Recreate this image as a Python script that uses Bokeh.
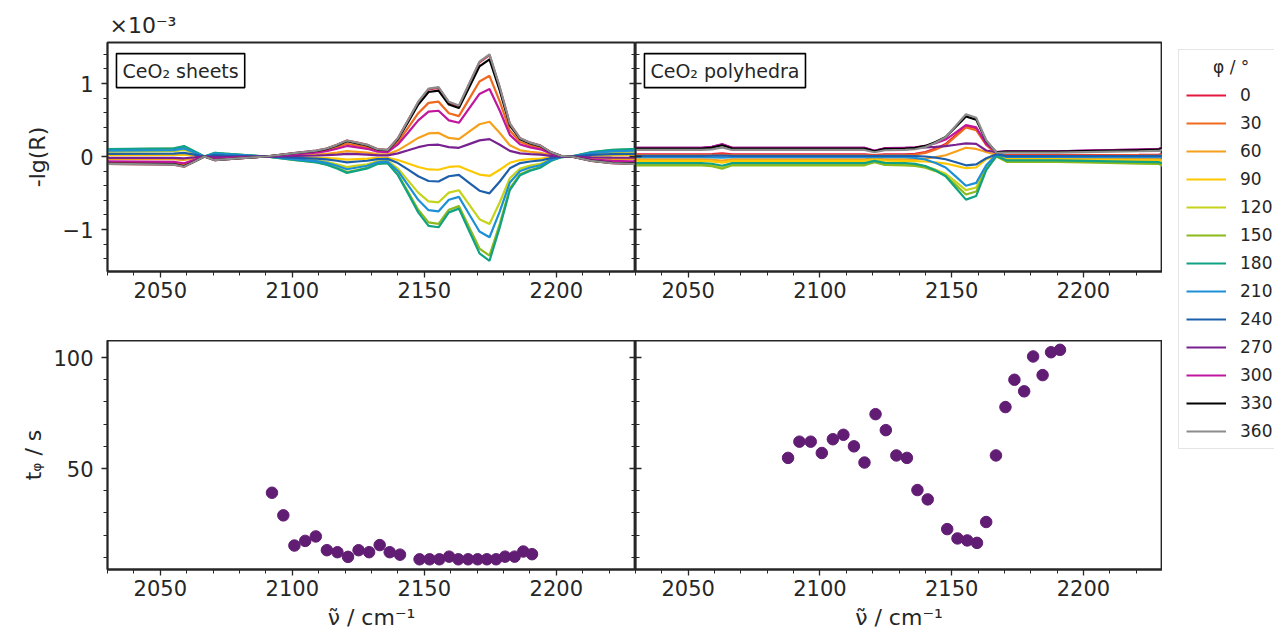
from bokeh.plotting import figure
from bokeh.models import (Range1d, LinearAxis, SingleIntervalTicker, Label, Legend,
                          LegendItem, Title, CustomJSTickFormatter)
from bokeh.layouts import row, column
from bokeh.embed import file_html
from bokeh.resources import INLINE

# ---------------- data ----------------
angles = [0, 30, 60, 90, 120, 150, 180, 210, 240, 270, 300, 330, 360]
angle_colors = ["#e4173e", "#ef6a1f", "#f6a01c", "#fdc800", "#c6d31b", "#8cba1c", "#10a283",
                "#1c8fd5", "#1d5fab", "#772290", "#c0169d", "#000000", "#8c8c8c"]

# CeO2 sheets: -lg(R) in units of 1e-3
sheets_x = [2028.1, 2055.1, 2059.0, 2062.9, 2066.7, 2070.6, 2074.4, 2089.9, 2101.4, 2109.1,
            2113.0, 2116.9, 2120.7, 2124.6, 2128.4, 2132.3, 2136.1, 2140.0, 2143.9, 2147.7,
            2151.6, 2155.4, 2159.3, 2163.1, 2167.0, 2170.9, 2174.7, 2178.6, 2182.4, 2186.3,
            2190.1, 2194.0, 2197.9, 2201.7, 2205.6, 2213.3, 2221.0, 2228.7, 2232.6]
sheets_0 = [-0.10, -0.11, -0.14, -0.07, 0.0, -0.05, -0.04, 0.0, 0.05, 0.08,
            0.11, 0.16, 0.22, 0.19, 0.16, 0.10, 0.09, 0.25, 0.50, 0.74,
            0.92, 0.94, 0.74, 0.69, 0.99, 1.29, 1.39, 0.94, 0.45, 0.25,
            0.19, 0.15, 0.06, 0.01, 0.0, -0.06, -0.09, -0.10, -0.10]
sheets_30 = [-0.079, -0.087, -0.111, -0.055, 0.0, -0.040, -0.032, 0.0, 0.040, 0.063,
             0.087, 0.126, 0.174, 0.150, 0.126, 0.079, 0.071, 0.198, 0.395, 0.593,
             0.735, 0.751, 0.593, 0.553, 0.790, 1.027, 1.106, 0.751, 0.356, 0.198,
             0.150, 0.119, 0.047, 0.008, 0.0, -0.047, -0.071, -0.079, -0.079]
sheets_60 = [-0.034, -0.037, -0.048, -0.024, 0.0, -0.017, -0.014, 0.0, 0.017, 0.027,
             0.037, 0.054, 0.075, 0.065, 0.054, 0.034, 0.031, 0.085, 0.170, 0.255,
             0.316, 0.323, 0.255, 0.238, 0.340, 0.442, 0.476, 0.323, 0.153, 0.085,
             0.065, 0.051, 0.020, 0.003, 0.0, -0.020, -0.031, -0.034, -0.034]
sheets_90 = [0.019, 0.021, 0.027, 0.013, 0.0, 0.010, 0.008, 0.0, -0.010, -0.015,
             -0.021, -0.030, -0.042, -0.036, -0.030, -0.019, -0.017, -0.048, -0.095, -0.143,
             -0.177, -0.181, -0.143, -0.133, -0.190, -0.247, -0.266, -0.181, -0.086, -0.048,
             -0.036, -0.029, -0.011, -0.002, 0.0, 0.011, 0.017, 0.019, 0.019]
sheets_120 = [0.066, 0.073, 0.092, 0.046, 0.0, 0.033, 0.026, 0.0, -0.033, -0.053,
              -0.073, -0.106, -0.145, -0.125, -0.106, -0.066, -0.059, -0.165, -0.330, -0.495,
              -0.614, -0.627, -0.495, -0.462, -0.660, -0.858, -0.924, -0.627, -0.297, -0.165,
              -0.125, -0.099, -0.040, -0.007, 0.0, 0.040, 0.059, 0.066, 0.066]
sheets_150 = [0.097, 0.107, 0.136, 0.068, 0.0, 0.049, 0.039, 0.0, -0.049, -0.078,
              -0.107, -0.155, -0.213, -0.184, -0.155, -0.097, -0.087, -0.243, -0.485, -0.728,
              -0.902, -0.922, -0.728, -0.679, -0.970, -1.261, -1.358, -0.922, -0.437, -0.243,
              -0.184, -0.146, -0.058, -0.010, 0.0, 0.058, 0.087, 0.097, 0.097]
sheets_180 = [0.102, 0.112, 0.143, 0.071, 0.0, 0.051, 0.041, 0.0, -0.051, -0.082,
              -0.112, -0.163, -0.224, -0.194, -0.163, -0.102, -0.092, -0.255, -0.510, -0.765,
              -0.949, -0.969, -0.765, -0.714, -1.020, -1.326, -1.428, -0.969, -0.459, -0.255,
              -0.194, -0.153, -0.061, -0.010, 0.0, 0.061, 0.092, 0.102, 0.102]
sheets_210 = [0.079, 0.087, 0.111, 0.055, 0.0, 0.040, 0.032, 0.0, -0.040, -0.063,
              -0.087, -0.126, -0.174, -0.150, -0.126, -0.079, -0.071, -0.198, -0.395, -0.593,
              -0.735, -0.751, -0.593, -0.553, -0.790, -1.027, -1.106, -0.751, -0.356, -0.198,
              -0.150, -0.119, -0.047, -0.008, 0.0, 0.047, 0.071, 0.079, 0.079]
sheets_240 = [0.036, 0.040, 0.050, 0.025, 0.0, 0.018, 0.014, 0.0, -0.018, -0.029,
              -0.040, -0.058, -0.079, -0.068, -0.058, -0.036, -0.032, -0.090, -0.180, -0.270,
              -0.335, -0.342, -0.270, -0.252, -0.360, -0.468, -0.504, -0.342, -0.162, -0.090,
              -0.068, -0.054, -0.022, -0.004, 0.0, 0.022, 0.032, 0.036, 0.036]
sheets_270 = [-0.017, -0.019, -0.024, -0.012, 0.0, -0.009, -0.007, 0.0, 0.009, 0.014,
              0.019, 0.027, 0.037, 0.032, 0.027, 0.017, 0.015, 0.043, 0.085, 0.128,
              0.158, 0.162, 0.128, 0.119, 0.170, 0.221, 0.238, 0.162, 0.077, 0.043,
              0.032, 0.026, 0.010, 0.002, 0.0, -0.010, -0.015, -0.017, -0.017]
sheets_300 = [-0.066, -0.073, -0.092, -0.046, 0.0, -0.033, -0.026, 0.0, 0.033, 0.053,
              0.073, 0.106, 0.145, 0.125, 0.106, 0.066, 0.059, 0.165, 0.330, 0.495,
              0.614, 0.627, 0.495, 0.462, 0.660, 0.858, 0.924, 0.627, 0.297, 0.165,
              0.125, 0.099, 0.040, 0.007, 0.0, -0.040, -0.059, -0.066, -0.066]
sheets_330 = [-0.095, -0.105, -0.133, -0.067, 0.0, -0.048, -0.038, 0.0, 0.048, 0.076,
              0.105, 0.152, 0.209, 0.180, 0.152, 0.095, 0.086, 0.238, 0.475, 0.713,
              0.884, 0.903, 0.713, 0.665, 0.950, 1.235, 1.330, 0.903, 0.428, 0.238,
              0.180, 0.143, 0.057, 0.010, 0.0, -0.057, -0.086, -0.095, -0.095]
sheets_360 = [-0.10, -0.11, -0.14, -0.07, 0.0, -0.05, -0.04, 0.0, 0.05, 0.08,
              0.11, 0.16, 0.22, 0.19, 0.16, 0.10, 0.09, 0.25, 0.50, 0.75,
              0.93, 0.95, 0.75, 0.70, 1.00, 1.30, 1.40, 0.95, 0.45, 0.25,
              0.19, 0.15, 0.06, 0.01, 0.0, -0.06, -0.09, -0.10, -0.10]

# CeO2 polyhedra: -lg(R) in units of 1e-3
poly_x = [2028.1, 2055.1, 2059.0, 2062.9, 2066.7, 2070.6, 2113.0, 2116.9, 2120.7, 2124.6,
          2132.3, 2136.1, 2140.0, 2143.9, 2147.7, 2151.6, 2155.4, 2159.3, 2163.1, 2167.0,
          2170.9, 2190.1, 2205.6, 2221.0, 2228.7, 2232.6]
poly_0 = [0.030, 0.030, 0.033, 0.042, 0.030, 0.030, 0.030, 0.030, 0.020, 0.029,
          0.030, 0.038, 0.061, 0.108, 0.170, 0.295, 0.420, 0.381, 0.167, 0.037,
          0.018, 0.018, 0.021, 0.024, 0.026, 0.045]
poly_30 = [0.020, 0.020, 0.022, 0.028, 0.020, 0.020, 0.020, 0.020, 0.013, 0.019,
           0.020, 0.028, 0.050, 0.096, 0.157, 0.278, 0.400, 0.362, 0.160, 0.035,
           0.012, 0.012, 0.014, 0.016, 0.017, 0.030]
poly_60 = [-0.040, -0.040, -0.044, -0.056, -0.040, -0.040, -0.040, -0.040, -0.026, -0.038,
           -0.040, -0.037, -0.027, -0.008, 0.018, 0.069, 0.120, 0.104, 0.062, 0.020,
           -0.024, -0.024, -0.028, -0.032, -0.034, -0.060]
poly_90 = [-0.060, -0.060, -0.066, -0.084, -0.060, -0.060, -0.060, -0.060, -0.039, -0.057,
           -0.060, -0.062, -0.068, -0.080, -0.096, -0.128, -0.160, -0.150, -0.037, 0.016,
           -0.036, -0.036, -0.042, -0.048, -0.051, -0.090]
poly_120 = [-0.110, -0.110, -0.121, -0.154, -0.110, -0.110, -0.110, -0.110, -0.072, -0.105,
            -0.110, -0.117, -0.138, -0.180, -0.236, -0.348, -0.460, -0.425, -0.142, 0.004,
            -0.066, -0.066, -0.077, -0.088, -0.094, -0.165]
poly_150 = [-0.120, -0.120, -0.132, -0.168, -0.120, -0.120, -0.120, -0.120, -0.078, -0.114,
            -0.120, -0.128, -0.152, -0.200, -0.264, -0.392, -0.520, -0.480, -0.163, 0.001,
            -0.072, -0.072, -0.084, -0.096, -0.102, -0.180]
poly_180 = [-0.090, -0.090, -0.099, -0.126, -0.090, -0.090, -0.090, -0.090, -0.059, -0.086,
            -0.090, -0.100, -0.130, -0.190, -0.270, -0.430, -0.590, -0.540, -0.187, 0.008,
            -0.054, -0.054, -0.063, -0.072, -0.077, -0.135]
poly_210 = [-0.010, -0.010, -0.011, -0.014, -0.010, -0.010, -0.010, -0.010, -0.007, -0.010,
            -0.010, -0.018, -0.041, -0.088, -0.150, -0.275, -0.400, -0.361, -0.120, 0.028,
            -0.006, -0.006, -0.007, -0.008, -0.009, -0.015]
poly_240 = [0.010, 0.010, 0.011, 0.014, 0.010, 0.010, 0.010, 0.010, 0.007, 0.010,
            0.010, 0.007, 0.000, -0.016, -0.037, -0.078, -0.120, -0.107, -0.023, 0.032,
            0.006, 0.006, 0.007, 0.008, 0.009, 0.015]
poly_270 = [0.120, 0.120, 0.132, 0.168, 0.120, 0.120, 0.120, 0.120, 0.078, 0.114,
            0.120, 0.121, 0.125, 0.132, 0.142, 0.161, 0.180, 0.174, 0.083, 0.059,
            0.072, 0.072, 0.084, 0.096, 0.102, 0.180]
poly_300 = [0.120, 0.120, 0.132, 0.168, 0.120, 0.120, 0.120, 0.120, 0.078, 0.114,
            0.120, 0.126, 0.145, 0.182, 0.232, 0.331, 0.430, 0.399, 0.170, 0.059,
            0.072, 0.072, 0.084, 0.096, 0.102, 0.180]
poly_330 = [0.110, 0.110, 0.121, 0.154, 0.110, 0.110, 0.110, 0.110, 0.072, 0.105,
            0.110, 0.119, 0.145, 0.198, 0.268, 0.409, 0.550, 0.506, 0.212, 0.056,
            0.066, 0.066, 0.077, 0.088, 0.094, 0.165]
poly_360 = [0.090, 0.090, 0.099, 0.126, 0.090, 0.090, 0.090, 0.090, 0.059, 0.086,
            0.090, 0.100, 0.129, 0.188, 0.266, 0.423, 0.580, 0.531, 0.223, 0.052,
            0.054, 0.054, 0.063, 0.072, 0.077, 0.135]

# phase delay times t_phi / s
sheets_t_x = [2092.3, 2096.6, 2100.8, 2104.9, 2108.9, 2113.1, 2117.1, 2121.1, 2125.1, 2129.1,
              2133.1, 2136.9, 2140.8, 2148.2, 2152.0, 2155.7, 2159.4, 2162.9, 2166.6, 2170.2,
              2173.7, 2177.2, 2180.6, 2184.2, 2187.5, 2190.8]
sheets_t = [39.1, 28.9, 15.3, 17.4, 19.4, 13.2, 12.3, 10.2, 13.2, 12.3,
            15.5, 12.3, 11.2, 9.1, 9.1, 9.1, 10.3, 9.1, 9.1, 9.1,
            9.1, 9.1, 10.3, 10.3, 12.6, 11.4]
poly_t_x = [2087.9, 2092.2, 2096.5, 2100.7, 2104.9, 2108.9, 2112.9, 2116.9, 2121.1, 2125.0,
            2129.0, 2133.0, 2137.0, 2140.9, 2148.3, 2152.2, 2155.9, 2159.6, 2163.1, 2166.8,
            2170.4, 2173.8, 2177.5, 2180.9, 2184.5, 2187.7, 2191.1]
poly_t = [54.8, 62.1, 62.1, 57.0, 63.2, 65.2, 60.0, 52.7, 74.5, 67.3,
          55.9, 54.8, 40.3, 36.1, 22.7, 18.5, 17.6, 16.5, 25.9, 55.9,
          77.7, 90.0, 84.8, 100.5, 92.1, 102.4, 103.5]

sheets_curves = [sheets_0, sheets_30, sheets_60, sheets_90, sheets_120, sheets_150, sheets_180,
                 sheets_210, sheets_240, sheets_270, sheets_300, sheets_330, sheets_360]
poly_curves = [poly_0, poly_30, poly_60, poly_90, poly_120, poly_150, poly_180,
               poly_210, poly_240, poly_270, poly_300, poly_330, poly_360]

# ---------------- styling ----------------
FONT = "DejaVu Sans"
INK = "#262626"
DOT = "#611c73"

x_range_top = Range1d(2030, 2230)
x_range_bot = Range1d(2030, 2230)
y_range_top = Range1d(-1.575, 1.562)
y_range_bot = Range1d(4.5, 107.7)


def style_axis(a):
    a.axis_line_color = INK
    a.axis_line_width = 1.8
    a.major_tick_line_color = INK
    a.minor_tick_line_color = INK
    a.major_tick_line_width = 1.3
    a.minor_tick_line_width = 1.0
    a.major_label_text_font = FONT
    a.major_label_text_font_size = "21px"
    a.major_label_text_color = INK
    a.axis_label_text_font = FONT
    a.axis_label_text_font_size = "22px"
    a.axis_label_text_font_style = "normal"
    a.axis_label_text_color = INK


def base_fig(fw, fh, xr, yr, mb_left, mb_top, mb_bottom):
    p = figure(frame_width=fw, frame_height=fh, x_range=xr, y_range=yr,
               toolbar_location=None, output_backend="svg",
               min_border_left=mb_left, min_border_right=0,
               min_border_top=mb_top, min_border_bottom=mb_bottom)
    p.xgrid.visible = False
    p.ygrid.visible = False
    p.outline_line_color = INK
    p.outline_line_width = 1.8
    p.outline_line_alpha = 1.0
    p.background_fill_color = "white"
    p.border_fill_color = "white"
    xa = p.xaxis[0]
    xa.ticker = SingleIntervalTicker(interval=50, num_minor_ticks=5)
    style_axis(xa)
    xa.major_tick_in = 0
    xa.major_tick_out = 6
    xa.minor_tick_in = 0
    xa.minor_tick_out = 4
    xa.major_label_standoff = 4
    return p


def inner_axis(a, ticker):
    a.ticker = ticker
    style_axis(a)
    a.formatter = CustomJSTickFormatter(code="return ''")
    a.major_label_standoff = 0
    a.major_tick_out = 0
    a.minor_tick_out = 0
    a.major_tick_in = 6
    a.minor_tick_in = 4
    a.axis_label = None


def outer_y(a, ticker, label, standoff):
    a.ticker = ticker
    style_axis(a)
    a.major_tick_in = 0
    a.major_tick_out = 6
    a.minor_tick_in = 0
    a.minor_tick_out = 4
    a.major_label_standoff = 8
    a.axis_label = label
    a.axis_label_standoff = standoff


# ---------------- top row ----------------
p1 = base_fig(528, 229, x_range_top, y_range_top, 107, 42, 69)
outer_y(p1.yaxis[0], SingleIntervalTicker(interval=1, num_minor_ticks=5), "-lg(R)", 10)
p1.yaxis[0].major_label_overrides = {-1: "\u22121"}
ax_r1 = LinearAxis()
inner_axis(ax_r1, SingleIntervalTicker(interval=1, num_minor_ticks=5))
p1.add_layout(ax_r1, "right")
p1.add_layout(Title(text="\u00d710\u207b\u00b3", align="left", offset=2,
                    text_font=FONT, text_font_size="22px", text_font_style="normal",
                    text_color=INK), "above")

p2 = base_fig(527, 229, x_range_top, y_range_top, 0, 42, 69)
inner_axis(p2.yaxis[0], SingleIntervalTicker(interval=1, num_minor_ticks=5))

for ang, col, ys in zip(angles, angle_colors, sheets_curves):
    p1.line(sheets_x, ys, line_color=col, line_width=2.2)
for ang, col, ys in zip(angles, angle_colors, poly_curves):
    p2.line(poly_x, ys, line_color=col, line_width=2.2)

for p, txt in ((p1, "CeO\u2082 sheets"), (p2, "CeO\u2082 polyhedra")):
    p.add_layout(Label(x=2033.4, y=1.41, text=txt, anchor="top_left",
                       text_font=FONT, text_font_size="19px", text_color=INK,
                       padding=6, border_line_color="black", border_line_width=1.6,
                       background_fill_color="white", background_fill_alpha=1.0))

# ---------------- bottom row ----------------
xlabel = "\u03bd\u0303 / cm\u207b\u00b9"
p3 = base_fig(528, 229, x_range_bot, y_range_bot, 107, 0, 67)
outer_y(p3.yaxis[0], SingleIntervalTicker(interval=50, num_minor_ticks=5), "t\u1d69 / s", 4)
ax_r3 = LinearAxis()
inner_axis(ax_r3, SingleIntervalTicker(interval=50, num_minor_ticks=5))
p3.add_layout(ax_r3, "right")
p3.xaxis[0].axis_label = xlabel
p3.xaxis[0].axis_label_standoff = 6

p4 = base_fig(527, 229, x_range_bot, y_range_bot, 0, 0, 67)
inner_axis(p4.yaxis[0], SingleIntervalTicker(interval=50, num_minor_ticks=5))
p4.xaxis[0].axis_label = xlabel
p4.xaxis[0].axis_label_standoff = 6

p3.scatter(sheets_t_x, sheets_t, size=11.5, fill_color=DOT, line_color=DOT)
p4.scatter(poly_t_x, poly_t, size=11.5, fill_color=DOT, line_color=DOT)

# ---------------- legend (separate panel, lines lie outside its visible range) ----------------
legfig = figure(width=112, height=636, x_range=Range1d(0, 1), y_range=Range1d(0, 1),
                toolbar_location=None, output_backend="svg", x_axis_type=None,
                y_axis_type=None, min_border=0)
legfig.outline_line_color = None
legfig.xgrid.visible = False
legfig.ygrid.visible = False
items = []
for ang, col, ys in zip(angles, angle_colors, sheets_curves):
    r = legfig.line(sheets_x, ys, line_color=col, line_width=2)
    items.append(LegendItem(label=str(ang), renderers=[r]))
legend = Legend(items=items, location=(16, 187),
                title="\u00a0\u00a0\u00a0\u00a0\u00a0\u03c6 / \u00b0",
                title_text_font=FONT, title_text_font_size="17px",
                title_text_font_style="normal", title_text_color=INK, title_standoff=8,
                label_text_font=FONT, label_text_font_size="17px", label_text_color=INK,
                label_text_align="left",
                glyph_width=40, glyph_height=20, label_height=20, label_width=44, spacing=8,
                label_standoff=14, padding=7, margin=0,
                border_line_color="#cccccc", border_line_width=1,
                background_fill_color="white", background_fill_alpha=1.0)
legfig.add_layout(legend)

layout = row(column(row(p1, p2), row(p3, p4)), legfig)
open("out.html", "w").write(file_html(layout, INLINE))
